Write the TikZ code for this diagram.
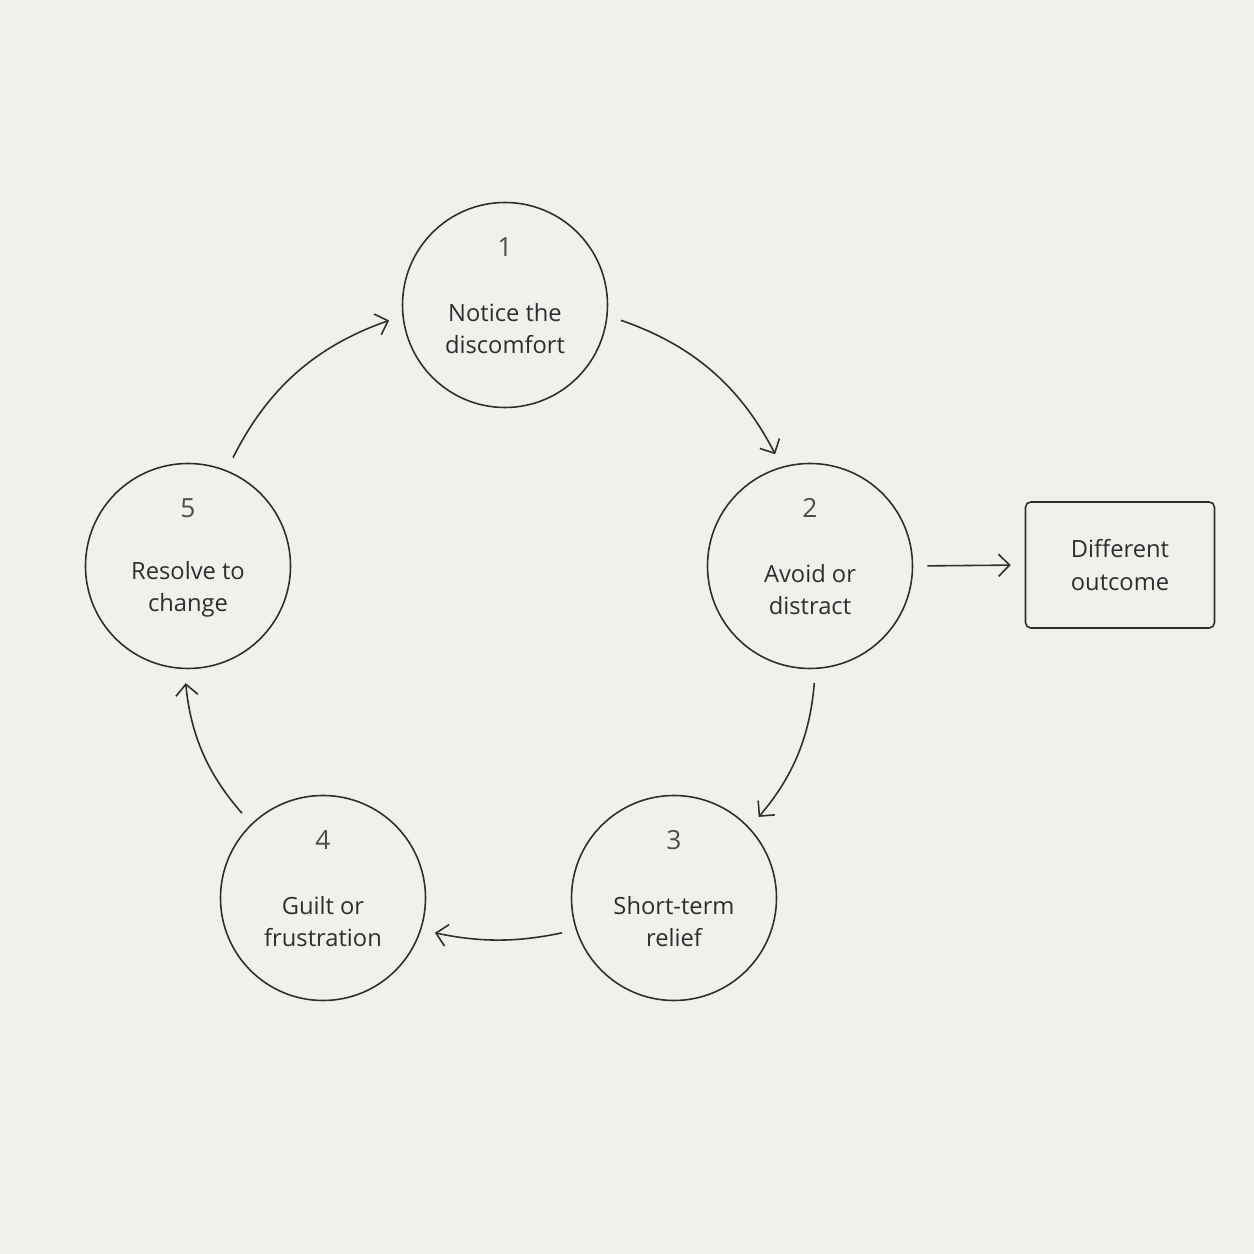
\documentclass[tikz,border=0pt]{standalone}
\usepackage{fontspec}
\setmainfont{Open Sans}
\usetikzlibrary{arrows.meta}
\definecolor{paper}{HTML}{F2F0ED}
\definecolor{ink}{HTML}{2E2E2E}
\tikzset{
  stage/.style={draw=ink, line width=0.9pt, circle, minimum size=4.1cm, inner sep=0pt},
  outcome/.style={draw=ink, line width=0.9pt, rounded corners=3pt, minimum width=3.78cm, minimum height=2.52cm, align=center, font=\fontsize{13.5}{18.5}\selectfont, text=ink},
  flow/.style={draw=ink, line width=0.9pt, -{Straight Barb[length=2.2mm,width=4.4mm]}, shorten <=0.28cm, shorten >=0.28cm, bend left=22},
}
\newcommand{\stagecontent}[3]{%
  \node[text=ink!85, font=\fontsize{15}{15}\selectfont] at ([yshift=1.16cm]#1) {#2};
  \draw[ink!60, line width=0.5pt] ([xshift=-0.72cm,yshift=0.5cm]#1) -- ([xshift=0.72cm,yshift=0.5cm]#1);
  \node[text=ink, align=center, font=\fontsize{13.5}{18.5}\selectfont] at ([yshift=-0.47cm]#1) {#3};
}
\begin{document}
\begin{tikzpicture}
  \fill[paper] (0,0) rectangle (25.08,25.08);
  \useasboundingbox (0,0) rectangle (25.08,25.08);

  % Cerchi del ciclo
  \node[stage] at (10.10, 18.98) (notice) {};
  \node[stage] at (16.20, 13.76) (avoid) {};
  \node[stage] at (13.48, 7.12) (relief) {};
  \node[stage] at (6.46, 7.12) (guilt) {};
  \node[stage] at (3.76, 13.76) (resolve) {};

  % Testi
  \stagecontent{notice}{1}{Notice the\\discomfort}
  \stagecontent{avoid}{2}{Avoid or\\distract}
  \stagecontent{relief}{3}{Short-term\\relief}
  \stagecontent{guilt}{4}{Guilt or\\frustration}
  \stagecontent{resolve}{5}{Resolve to\\change}

  % Uscita
  \node[outcome] at (22.40, 13.78) (different) {Different\\outcome};

  % Frecce
  \draw[flow] (notice.-6) to (avoid.106);
  \draw[flow, bend left=18] (avoid.-87) to (relief.43);
  \draw[flow, bend left=12] (relief.198) to (guilt.-18);
  \draw[flow, bend left=18] (guilt.134) to (resolve.-92);
  \draw[flow] (resolve.68) to (notice.186);
  \draw[flow] (avoid.east) -- (different.west);
\end{tikzpicture}
\end{document}
